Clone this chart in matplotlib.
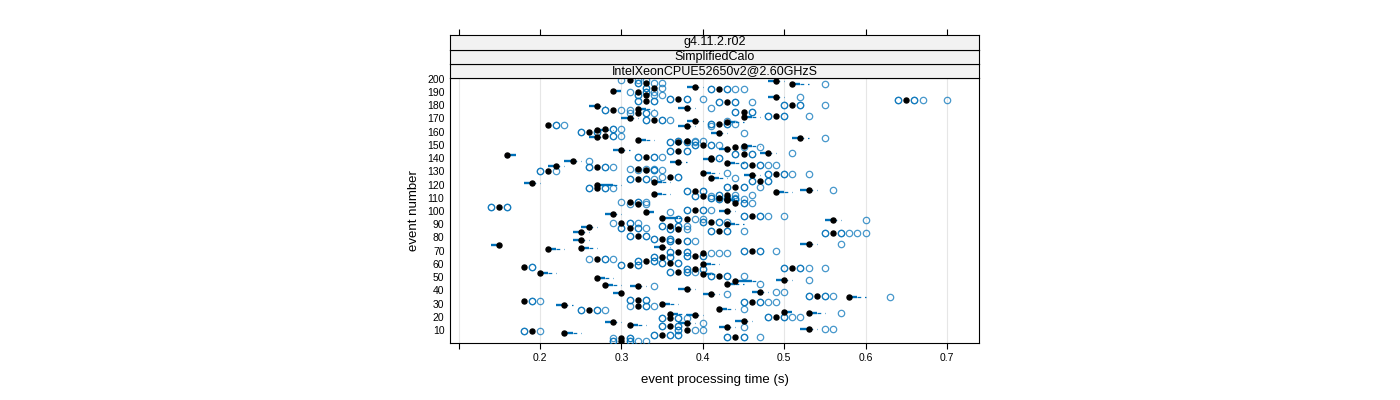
# Event processing time per event: horizontal box-and-whisker rows

import numpy as np
import matplotlib.pyplot as plt

plt.rcParams['font.family'] = ['Liberation Sans', 'DejaVu Sans']

strip_labels = ['g4.11.2.r02', 'SimplifiedCalo', 'IntelXeonCPUE52650v2@2.60GHzS']
x_ticks = [0.1, 0.2, 0.3, 0.4, 0.5, 0.6, 0.7]
x_tick_labels = ['', '0.2', '0.3', '0.4', '0.5', '0.6', '0.7']
y_ticks = list(range(10, 201, 10))

# run times per event, in units of 0.01 s
events = [199, 198, 197, 196, 194, 193, 192, 191, 190, 188, 186, 185, 184, 183, 182,
          180, 179, 178, 177, 176, 175, 174, 172, 171, 170, 169, 168, 167, 166, 165,
          164, 162, 161, 160, 159, 157, 156, 155, 154, 153, 152, 150, 149, 148, 147,
          146, 145, 144, 143, 142, 141, 140, 139, 138, 137, 136, 135, 134, 133, 132,
          131, 130, 129, 128, 127, 126, 125, 124, 123, 122, 121, 120, 118, 117, 116,
          115, 114, 113, 112, 111, 110, 109, 108, 107, 106, 105, 103, 101, 100, 99,
          98, 96, 95, 94, 93, 92, 91, 90, 89, 88, 87, 86, 85, 84, 83,
          81, 79, 78, 77, 75, 74, 73, 72, 71, 70, 69, 68, 66, 65, 64,
          62, 61, 60, 59, 58, 57, 56, 54, 53, 52, 51, 49, 48, 47, 45,
          44, 43, 41, 39, 38, 37, 36, 35, 33, 32, 31, 30, 29, 28, 26,
          25, 24, 23, 22, 21, 20, 19, 17, 16, 15, 14, 13, 12, 11, 10,
          9, 8, 6, 5, 4, 2]

runs = [
    [30] + [31]*10 + [32, 33],
    [48]*3 + [49]*6 + [50],
    [32, 32] + [33]*10 + [34, 35],
    [51]*6 + [52]*3 + [53] + [55],
    [38]*3 + [39]*6 + [40],
    [33, 33] + [34]*10 + [35],
    [41, 41] + [42]*12 + [43, 43, 44, 45],
    [29]*6 + [30]*3,
    [31] + [32]*10 + [33, 33, 34],
    [32, 32] + [33]*10 + [34, 35],
    [48]*4 + [49]*6 + [50] + [52],
    [36, 36] + [37]*10 + [38, 38, 40],
    [64, 64] + [65]*12 + [66, 66, 67, 70],
    [32, 32] + [33]*10 + [34, 34],
    [42, 42] + [43]*10 + [44, 44, 46],
    [50, 50] + [51]*10 + [52, 52, 55],
    [26]*3 + [27]*6 + [28],
    [37]*4 + [38]*6 + [39] + [41],
    [32]*6 + [33]*3 + [34],
    [28, 28] + [29]*10 + [30, 31],
    [44, 44] + [45]*10 + [46, 46],
    [31] + [32]*10 + [33, 33, 34],
    [48, 48] + [49]*10 + [50, 50, 53],
    [45]*6 + [46]*3 + [47],
    [30]*3 + [31]*6 + [32],
    [33, 33] + [34]*10 + [35, 35, 36],
    [38]*4 + [39]*6 + [40] + [43],
    [43]*6 + [44]*3 + [45],
    [41, 41] + [42]*10 + [43, 43, 44],
    [21]*10 + [22, 22, 23],
    [37]*4 + [38]*6 + [39] + [41],
    [28]*10 + [29, 29, 30],
    [27]*6 + [28]*3 + [29],
    [25, 25] + [26]*10 + [27, 27],
    [41]*4 + [42]*6 + [43] + [45],
    [28]*10 + [29, 29, 30],
    [26]*3 + [27]*6 + [28],
    [51]*4 + [52]*6 + [53] + [55],
    [32]*6 + [33]*3 + [34],
    [37, 37] + [38]*10 + [39, 40],
    [36, 36] + [37]*10 + [38, 38, 39],
    [39, 39] + [40]*10 + [41, 41, 42],
    [45]*6 + [46]*3 + [47],
    [44]*10 + [45, 47],
    [42]*3 + [43]*6 + [44],
    [29]*3 + [30]*6 + [31],
    [36, 36] + [37]*10 + [38, 38],
    [47]*4 + [48]*6 + [49] + [51],
    [44, 44] + [45]*10 + [46, 46],
    [16]*6 + [17]*3,
    [32, 32] + [33]*10 + [34, 34, 35],
    [41]*10 + [42, 42],
    [40]*3 + [41]*6 + [42],
    [23]*4 + [24]*6 + [25] + [26],
    [36]*3 + [37]*6 + [38],
    [43]*6 + [44]*3 + [45],
    [45, 45] + [46]*12 + [47, 47, 48, 49],
    [21]*3 + [22]*6 + [23],
    [26, 26] + [27]*10 + [28, 28, 29],
    [31] + [32]*10 + [33, 34],
    [32] + [33]*10 + [34, 34, 35],
    [20, 20] + [21]*10 + [22],
    [40]*6 + [41]*3 + [42] + [43],
    [48, 48] + [49]*12 + [50, 50, 51, 53],
    [45]*3 + [46]*6 + [47],
    [35] + [36]*10 + [37, 37],
    [41]*6 + [42]*3 + [43] + [44],
    [31, 31] + [32]*10 + [33, 33, 34],
    [46, 46] + [47]*10 + [48, 48],
    [34]*6 + [35]*3 + [36],
    [18]*3 + [19]*6 + [20],
    [27]*6 + [28, 29, 29] + [30],
    [43, 43] + [44]*10 + [45, 45, 47],
    [26, 26] + [27]*10 + [28, 28, 29],
    [52]*4 + [53]*6 + [54] + [56],
    [38, 38] + [39]*10 + [40, 40],
    [49]*6 + [50]*3 + [51],
    [34]*6 + [35]*3 + [36],
    [42, 42] + [43]*10 + [44, 46],
    [39, 39] + [40]*10 + [41],
    [41, 41] + [42]*10 + [43, 43, 44],
    [42, 42] + [43]*10 + [44, 44, 45],
    [43]*6 + [44]*3 + [45],
    [30] + [31]*10 + [32, 32, 33],
    [44]*10 + [45, 45, 46],
    [31] + [32]*10 + [33],
    [14, 14] + [15]*10 + [16, 16],
    [38, 38] + [39]*10 + [40, 40, 41],
    [42]*3 + [43]*6 + [44],
    [33]*6 + [34]*3 + [36],
    [28]*3 + [29]*6 + [30],
    [45, 45] + [46]*12 + [47, 47, 48, 50],
    [35]*6 + [36, 37, 37] + [38],
    [37, 37] + [38]*10 + [39, 40],
    [55]*4 + [56]*6 + [57] + [60],
    [40, 40] + [41]*10 + [42, 42, 43],
    [29] + [30]*10 + [31, 31, 32],
    [43]*6 + [44]*3 + [45],
    [35, 35] + [36]*10 + [37, 37, 38],
    [25]*3 + [26]*6 + [27],
    [30, 30] + [31]*10 + [32, 32, 33],
    [36, 36] + [37]*10 + [38],
    [41, 41] + [42]*10 + [43, 43, 45],
    [24]*3 + [25]*6 + [26],
    [55, 55] + [56]*14 + [57, 57, 58, 59, 60],
    [31, 31] + [32]*10 + [33, 33],
    [34, 34] + [35]*10 + [36, 36],
    [24]*3 + [25]*6 + [26],
    [36, 36] + [37]*10 + [38, 38, 39],
    [52]*4 + [53]*6 + [54] + [57],
    [14]*3 + [15]*6,
    [34]*3 + [35]*6 + [36],
    [25]*6 + [26]*3 + [27],
    [21]*6 + [22]*3 + [23],
    [45, 45] + [46]*10 + [47, 47, 49],
    [36, 36] + [37]*10 + [38, 38],
    [40]*10 + [41, 42, 43],
    [38, 38] + [39]*10 + [40, 40],
    [34, 34] + [35]*10 + [36, 36],
    [26] + [27]*10 + [28, 28, 29],
    [32, 32] + [33]*10 + [34, 34],
    [35, 35] + [36]*10 + [37, 37],
    [40]*6 + [41]*3 + [42],
    [30, 30] + [31]*10 + [32, 32],
    [18]*10 + [19, 19],
    [50, 50] + [51]*12 + [52, 52, 53, 55],
    [38, 38] + [39]*10 + [40, 40],
    [36, 36] + [37]*10 + [38, 38, 39],
    [20]*6 + [21]*3 + [22],
    [40]*6 + [41]*3 + [42],
    [41, 41] + [42]*10 + [43, 43, 45],
    [27]*6 + [28]*3 + [29],
    [49]*4 + [50]*6 + [51] + [53],
    [44]*6 + [45, 46, 46] + [47],
    [43]*6 + [44]*3 + [45] + [47],
    [28]*6 + [29]*3 + [30],
    [31]*4 + [32]*6 + [33] + [34],
    [37]*3 + [38]*6 + [39],
    [46]*4 + [47]*6 + [48] + [49, 50],
    [29]*3 + [30]*6,
    [40]*4 + [41]*6 + [42] + [43],
    [53, 53] + [54]*10 + [55, 55, 56],
    [58]*6 + [59]*3 + [60] + [63],
    [31, 31] + [32]*10 + [33, 33],
    [18]*10 + [19, 19, 20],
    [45, 45] + [46]*12 + [47, 47, 48, 49],
    [35]*6 + [36]*3 + [37],
    [22]*3 + [23]*6 + [24],
    [31] + [32]*10 + [33, 33, 34],
    [42]*6 + [43]*3 + [44] + [45],
    [25, 25] + [26]*10 + [27, 27, 28],
    [50]*6 + [51]*3,
    [53]*6 + [54]*3 + [55] + [57],
    [36]*6 + [37]*3 + [38],
    [38]*3 + [39]*6 + [40],
    [48, 48] + [49]*12 + [50, 50, 51, 52],
    [35, 35] + [36]*10 + [37, 37, 38],
    [44]*3 + [45]*6 + [46],
    [28]*3 + [29]*6 + [30],
    [37]*4 + [38]*6 + [39] + [40],
    [31]*6 + [32]*3 + [33],
    [35, 35] + [36]*10 + [37, 37],
    [42]*4 + [43]*6 + [44] + [45],
    [52]*4 + [53]*6 + [54] + [55, 56],
    [37, 37] + [38]*10 + [39, 40],
    [18, 18] + [19]*10 + [20],
    [23]*6 + [24]*3 + [25],
    [34, 34] + [35]*12 + [36, 36, 37, 37],
    [43, 43] + [44]*10 + [45, 45, 47],
    [29] + [30]*10 + [31, 31],
    [29, 29] + [30]*12 + [31, 31, 32, 33],
]


def fivenum(x):
    x = np.sort(x)
    n = len(x)
    n4 = np.floor((n + 3) / 2) / 2
    d = np.array([1, n4, (n + 1) / 2, n + 1 - n4, n]) - 1
    return 0.5 * (x[np.floor(d).astype(int)] + x[np.ceil(d).astype(int)])


def box_stats(x, coef=1.5):
    x = np.asarray(x, dtype=float)
    s = fivenum(x)
    iqr = s[3] - s[1]
    out = (x < s[1] - coef * iqr) | (x > s[3] + coef * iqr)
    inner = x[~out]
    return inner.min(), s[1], s[2], s[3], inner.max(), x[out]


blue = '#0070b8'

fig = plt.figure(figsize=(14, 4), dpi=100)
L, R = 450 / 1400, 979.3 / 1400
B, T = (400 - 342.6) / 400, (400 - 78) / 400
ax = fig.add_axes([L, B, R - L, T - B])
xlim = (0.0894, 0.7397)

for xv in x_ticks:
    ax.axvline(xv, color='#e6e6e6', lw=0.8, zorder=0)

for ev, vals in zip(events, runs):
    lo, q1, med, q3, hi, out = box_stats(vals)
    if q3 > q1:
        ax.plot([q1 / 100, q3 / 100], [ev, ev], color=blue, lw=1.7,
                solid_capstyle='butt', zorder=2)
    if hi > q3:
        ax.plot([q3 / 100, hi / 100], [ev, ev], color=blue, lw=0.9,
                dashes=(3, 3), zorder=2)
    if lo < q1:
        ax.plot([lo / 100, q1 / 100], [ev, ev], color=blue, lw=0.9,
                dashes=(3, 3), zorder=2)
    if len(out):
        ax.plot(out / 100, np.full(len(out), ev), 'o', mfc='none', mec=blue,
                ms=4.6, mew=0.9, alpha=0.72, zorder=3)
    ax.plot(med / 100, ev, 'o', color='black', ms=3.6, zorder=4)

ax.set_xlim(*xlim)
ax.set_ylim(0.5, 200.5)
ax.set_xticks(x_ticks)
ax.set_xticklabels(x_tick_labels)
ax.set_yticks(y_ticks)
ax.tick_params(axis='x', direction='out', length=4.5, width=0.8, labelsize=7.5, pad=3)
ax.tick_params(axis='y', direction='out', length=0, labelsize=7.5, pad=4)
for sp in ax.spines.values():
    sp.set_linewidth(0.8)
ax.set_xlabel('event processing time (s)', fontsize=9.5, labelpad=8)
ax.set_ylabel('event number', fontsize=9.5, labelpad=5)

# strips above the panel, bottom strip first
strip_h = 14.2 / 400
for i, txt in enumerate(reversed(strip_labels)):
    sax = fig.add_axes([L, T + i * strip_h, R - L, strip_h])
    sax.set_facecolor('#f2f2f2')
    sax.set_xlim(*xlim)
    sax.set_yticks([])
    for sp in sax.spines.values():
        sp.set_linewidth(0.8)
    sax.text(0.5, 0.5, txt, ha='center', va='center', fontsize=9,
             transform=sax.transAxes)
    if i == len(strip_labels) - 1:
        sax.xaxis.set_ticks_position('top')
        sax.set_xticks(x_ticks)
        sax.tick_params(axis='x', direction='out', length=4.5, width=0.8,
                        labeltop=False, labelbottom=False)
    else:
        sax.set_xticks([])

fig.savefig('out.png', dpi=100)
